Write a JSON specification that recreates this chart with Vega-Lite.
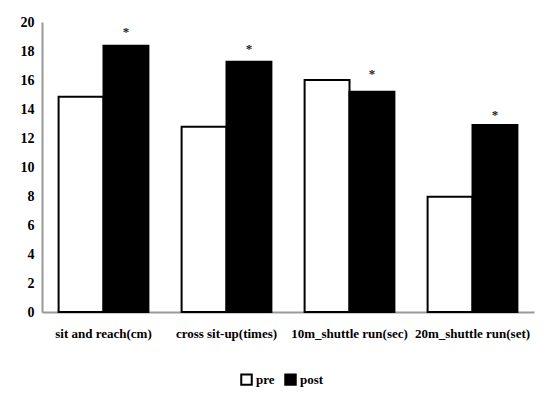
{
  "$schema": "https://vega.github.io/schema/vega-lite/v6.json",
  "width": 492,
  "height": 290,
  "autosize": {"type": "none"},
  "padding": {"left": 42, "top": 22, "right": 14, "bottom": 88},
  "background": "white",
  "config": {"view": {"stroke": null}, "font": "Liberation Serif"},
  "data": {
    "values": [
      {"test": "sit and reach(cm)", "time": "pre", "kind": "bar", "value": 14.85},
      {"test": "sit and reach(cm)", "time": "post", "kind": "bar", "value": 18.37},
      {"test": "cross sit-up(times)", "time": "pre", "kind": "bar", "value": 12.78},
      {"test": "cross sit-up(times)", "time": "post", "kind": "bar", "value": 17.26},
      {"test": "10m_shuttle run(sec)", "time": "pre", "kind": "bar", "value": 16.0},
      {"test": "10m_shuttle run(sec)", "time": "post", "kind": "bar", "value": 15.19},
      {"test": "20m_shuttle run(set)", "time": "pre", "kind": "bar", "value": 7.95},
      {"test": "20m_shuttle run(set)", "time": "post", "kind": "bar", "value": 12.9},
      {"test": "sit and reach(cm)", "time": "post", "kind": "star", "value": 19.45},
      {"test": "cross sit-up(times)", "time": "post", "kind": "star", "value": 18.28},
      {"test": "10m_shuttle run(sec)", "time": "post", "kind": "star", "value": 16.57},
      {"test": "20m_shuttle run(set)", "time": "post", "kind": "star", "value": 13.72}
    ]
  },
  "encoding": {
    "x": {
      "field": "test", "type": "nominal", "sort": null,
      "scale": {"paddingInner": 0.27, "paddingOuter": 0.135},
      "axis": {
        "title": null, "labelAngle": 0, "ticks": false, "grid": false,
        "domainColor": "#999999", "domainWidth": 2,
        "labelFont": "Liberation Serif", "labelFontWeight": "bold", "labelFontSize": 13,
        "labelColor": "black", "labelPadding": 15, "labelLimit": 200
      }
    },
    "xOffset": {"field": "time", "type": "nominal", "sort": ["pre", "post"], "scale": {"domain": ["pre", "post"], "paddingInner": 0, "paddingOuter": 0}},
    "y": {
      "field": "value", "type": "quantitative",
      "scale": {"domain": [0, 20], "nice": false},
      "axis": {
        "title": null, "ticks": false, "grid": false,
        "values": [0, 2, 4, 6, 8, 10, 12, 14, 16, 18, 20],
        "labelOverlap": false,
        "domainColor": "#999999", "domainWidth": 2,
        "labelFont": "Liberation Serif", "labelFontWeight": "bold", "labelFontSize": 14,
        "labelColor": "black", "labelPadding": 8
      }
    }
  },
  "layer": [
    {
      "transform": [{"filter": "datum.kind === 'bar'"}],
      "mark": {"type": "bar", "stroke": "black", "strokeWidth": 2},
      "encoding": {
        "fill": {
          "field": "time", "type": "nominal",
          "scale": {"domain": ["pre", "post"], "range": ["white", "black"]},
          "legend": {
            "title": null, "orient": "none", "direction": "horizontal",
            "legendX": 198, "legendY": 351,
            "symbolType": "square", "symbolSize": 110,
            "symbolStrokeColor": "black", "symbolStrokeWidth": 2,
            "labelFont": "Liberation Serif", "labelFontWeight": "bold", "labelFontSize": 13,
            "labelColor": "black", "labelOffset": 3, "columnPadding": 6
          }
        }
      }
    },
    {
      "transform": [{"filter": "datum.kind === 'star'"}],
      "mark": {"type": "text", "text": "*", "fontSize": 13, "fill": "#222222", "baseline": "middle", "dy": 2, "font": "Liberation Serif", "fontWeight": "bold"},
      "encoding": {}
    }
  ]
}
